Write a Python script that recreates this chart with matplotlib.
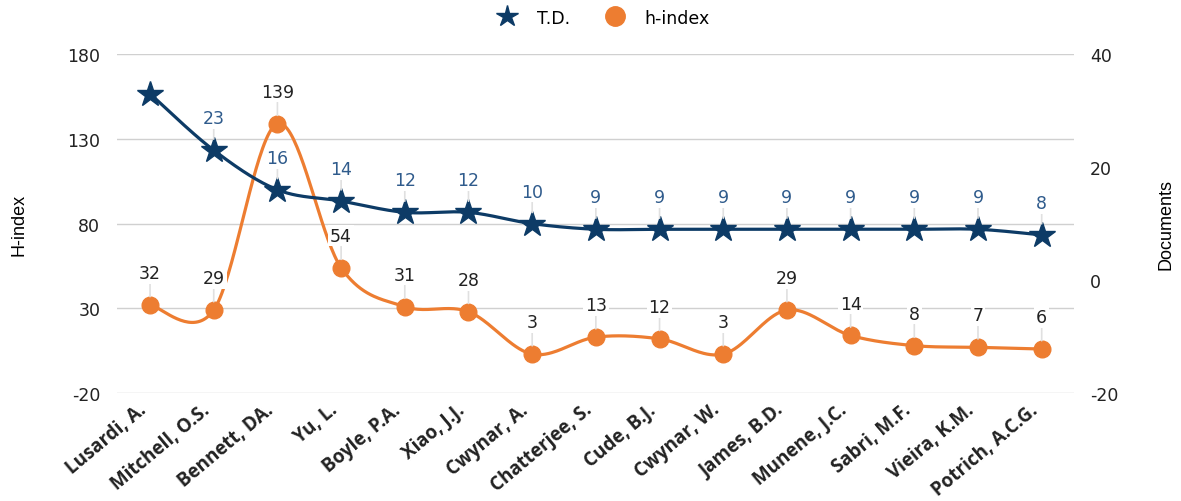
import matplotlib

matplotlib.use("Agg")
import matplotlib.pyplot as plt
import matplotlib.transforms as mtransforms
import numpy as np

plt.rcParams["font.family"] = ["Open Sans", "DejaVu Sans"]
plt.rcParams["axes.unicode_minus"] = False

authors = [
    "Lusardi, A.", "Mitchell, O.S.", "Bennett, DA.", "Yu, L.", "Boyle, P.A.",
    "Xiao, J.J.", "Cwynar, A.", "Chatterjee, S.", "Cude, B.J.", "Cwynar, W.",
    "James, B.D.", "Munene, J.C.", "Sabri, M.F.", "Vieira, K.M.", "Potrich, A.C.G.",
]
h_index = [32, 29, 139, 54, 31, 28, 3, 13, 12, 3, 29, 14, 8, 7, 6]
total_docs = [33, 23, 16, 14, 12, 12, 10, 9, 9, 9, 9, 9, 9, 9, 8]

NAVY = "#0d3b66"
NAVY_TEXT = "#2f5b8c"
ORANGE = "#ed7d31"
GRID = "#d0d0d0"
WIDE = ["DejaVu Sans"]


def smooth(xs, ys, n=40):
    """Catmull-Rom spline through the points (end points repeated)."""
    xs = np.asarray(xs, float)
    ys = np.asarray(ys, float)
    px = np.concatenate([[xs[0]], xs, [xs[-1]]])
    py = np.concatenate([[ys[0]], ys, [ys[-1]]])
    out_x, out_y = [], []
    t = np.linspace(0, 1, n)
    h00 = 2 * t**3 - 3 * t**2 + 1
    h10 = t**3 - 2 * t**2 + t
    h01 = -2 * t**3 + 3 * t**2
    h11 = t**3 - t**2
    for i in range(1, len(px) - 2):
        mx0 = (px[i + 1] - px[i - 1]) / 2
        mx1 = (px[i + 2] - px[i]) / 2
        my0 = (py[i + 1] - py[i - 1]) / 2
        my1 = (py[i + 2] - py[i]) / 2
        out_x.append(h00 * px[i] + h10 * mx0 + h01 * px[i + 1] + h11 * mx1)
        out_y.append(h00 * py[i] + h10 * my0 + h01 * py[i + 1] + h11 * my1)
    return np.concatenate(out_x), np.concatenate(out_y)


x = np.arange(len(authors))

fig = plt.figure(figsize=(11.81, 5.02), dpi=100)
ax = fig.add_axes([0.099, 0.215, 0.81, 0.675])
ax2 = ax.twinx()

# h-index on the left scale
sx, sy = smooth(x, h_index)
ax.plot(sx, sy, color=ORANGE, lw=2.3, zorder=3)
ax.plot(x, h_index, "o", color=ORANGE, ms=12, zorder=4)
for xi, v in zip(x, h_index):
    ax.annotate(
        str(v), (xi, v), xytext=(0, 23), textcoords="offset points",
        ha="center", va="center", fontsize=12.5, color="#222222", family=WIDE,
        bbox=dict(boxstyle="square,pad=0.1", fc="white", ec="none"),
        arrowprops=dict(arrowstyle="-", color="#e0e0e0", lw=1.2,
                        shrinkA=0, shrinkB=6),
        zorder=5,
    )

# total documents on the right scale
tx, ty = smooth(x, total_docs)
ax2.plot(tx, ty, color=NAVY, lw=2.3, zorder=3)
ax2.plot(x, total_docs, "*", color=NAVY, ms=19, zorder=4)
for xi, v in list(zip(x, total_docs))[1:]:
    ax2.annotate(
        str(v), (xi, v), xytext=(0, 23), textcoords="offset points",
        ha="center", va="center", fontsize=12.5, color=NAVY_TEXT, family=WIDE,
        bbox=dict(boxstyle="square,pad=0.1", fc="white", ec="none"),
        arrowprops=dict(arrowstyle="-", color="#e0e0e0", lw=1.2,
                        shrinkA=0, shrinkB=8),
        zorder=5,
    )

ax.set_xlim(-0.52, len(authors) - 0.5)
ax.set_ylim(-20, 180)
ax.set_yticks([-20, 30, 80, 130, 180])
ax2.set_ylim(-20, 40)
ax2.set_yticks([-20, 0, 20, 40])

ax.grid(axis="y", color=GRID, lw=1.0)
ax.set_axisbelow(True)
for a in (ax, ax2):
    for s in a.spines.values():
        s.set_visible(False)
    a.tick_params(length=0, labelsize=12.5, colors="#222222")
    for lab in a.get_yticklabels():
        lab.set_family(WIDE)
ax.tick_params(axis="y", pad=12)
ax2.tick_params(axis="y", pad=12)

ax.set_xticks(x)
ax.set_xticklabels(authors, rotation=40, ha="right", va="center",
                   rotation_mode="anchor", fontweight="bold", fontsize=13.5)
ax.tick_params(axis="x", pad=10)
shift = mtransforms.ScaledTranslation(-6 / 100, 0, fig.dpi_scale_trans)
for lab in ax.get_xticklabels():
    lab.set_transform(lab.get_transform() + shift)

narrow = ["Liberation Sans Narrow", "Liberation Sans", "DejaVu Sans"]
ax.set_ylabel("H-index", family=narrow, fontsize=13)
ax.yaxis.set_label_coords(-0.093, 0.5)
ax2.set_ylabel("Documents", family=narrow, fontsize=13, rotation=90)
ax2.yaxis.set_label_coords(1.088, 0.5)

handles = [
    plt.Line2D([], [], ls="none", marker="*", color=NAVY, ms=16),
    plt.Line2D([], [], ls="none", marker="o", color=ORANGE, ms=14),
]
fig.legend(handles, ["T.D.", "h-index"], loc="center", bbox_to_anchor=(0.508, 0.963),
           ncol=2, frameon=False, prop=dict(family=WIDE, size=12.5),
           columnspacing=1.6, handletextpad=0.7)

fig.savefig("out.png", dpi=100)
